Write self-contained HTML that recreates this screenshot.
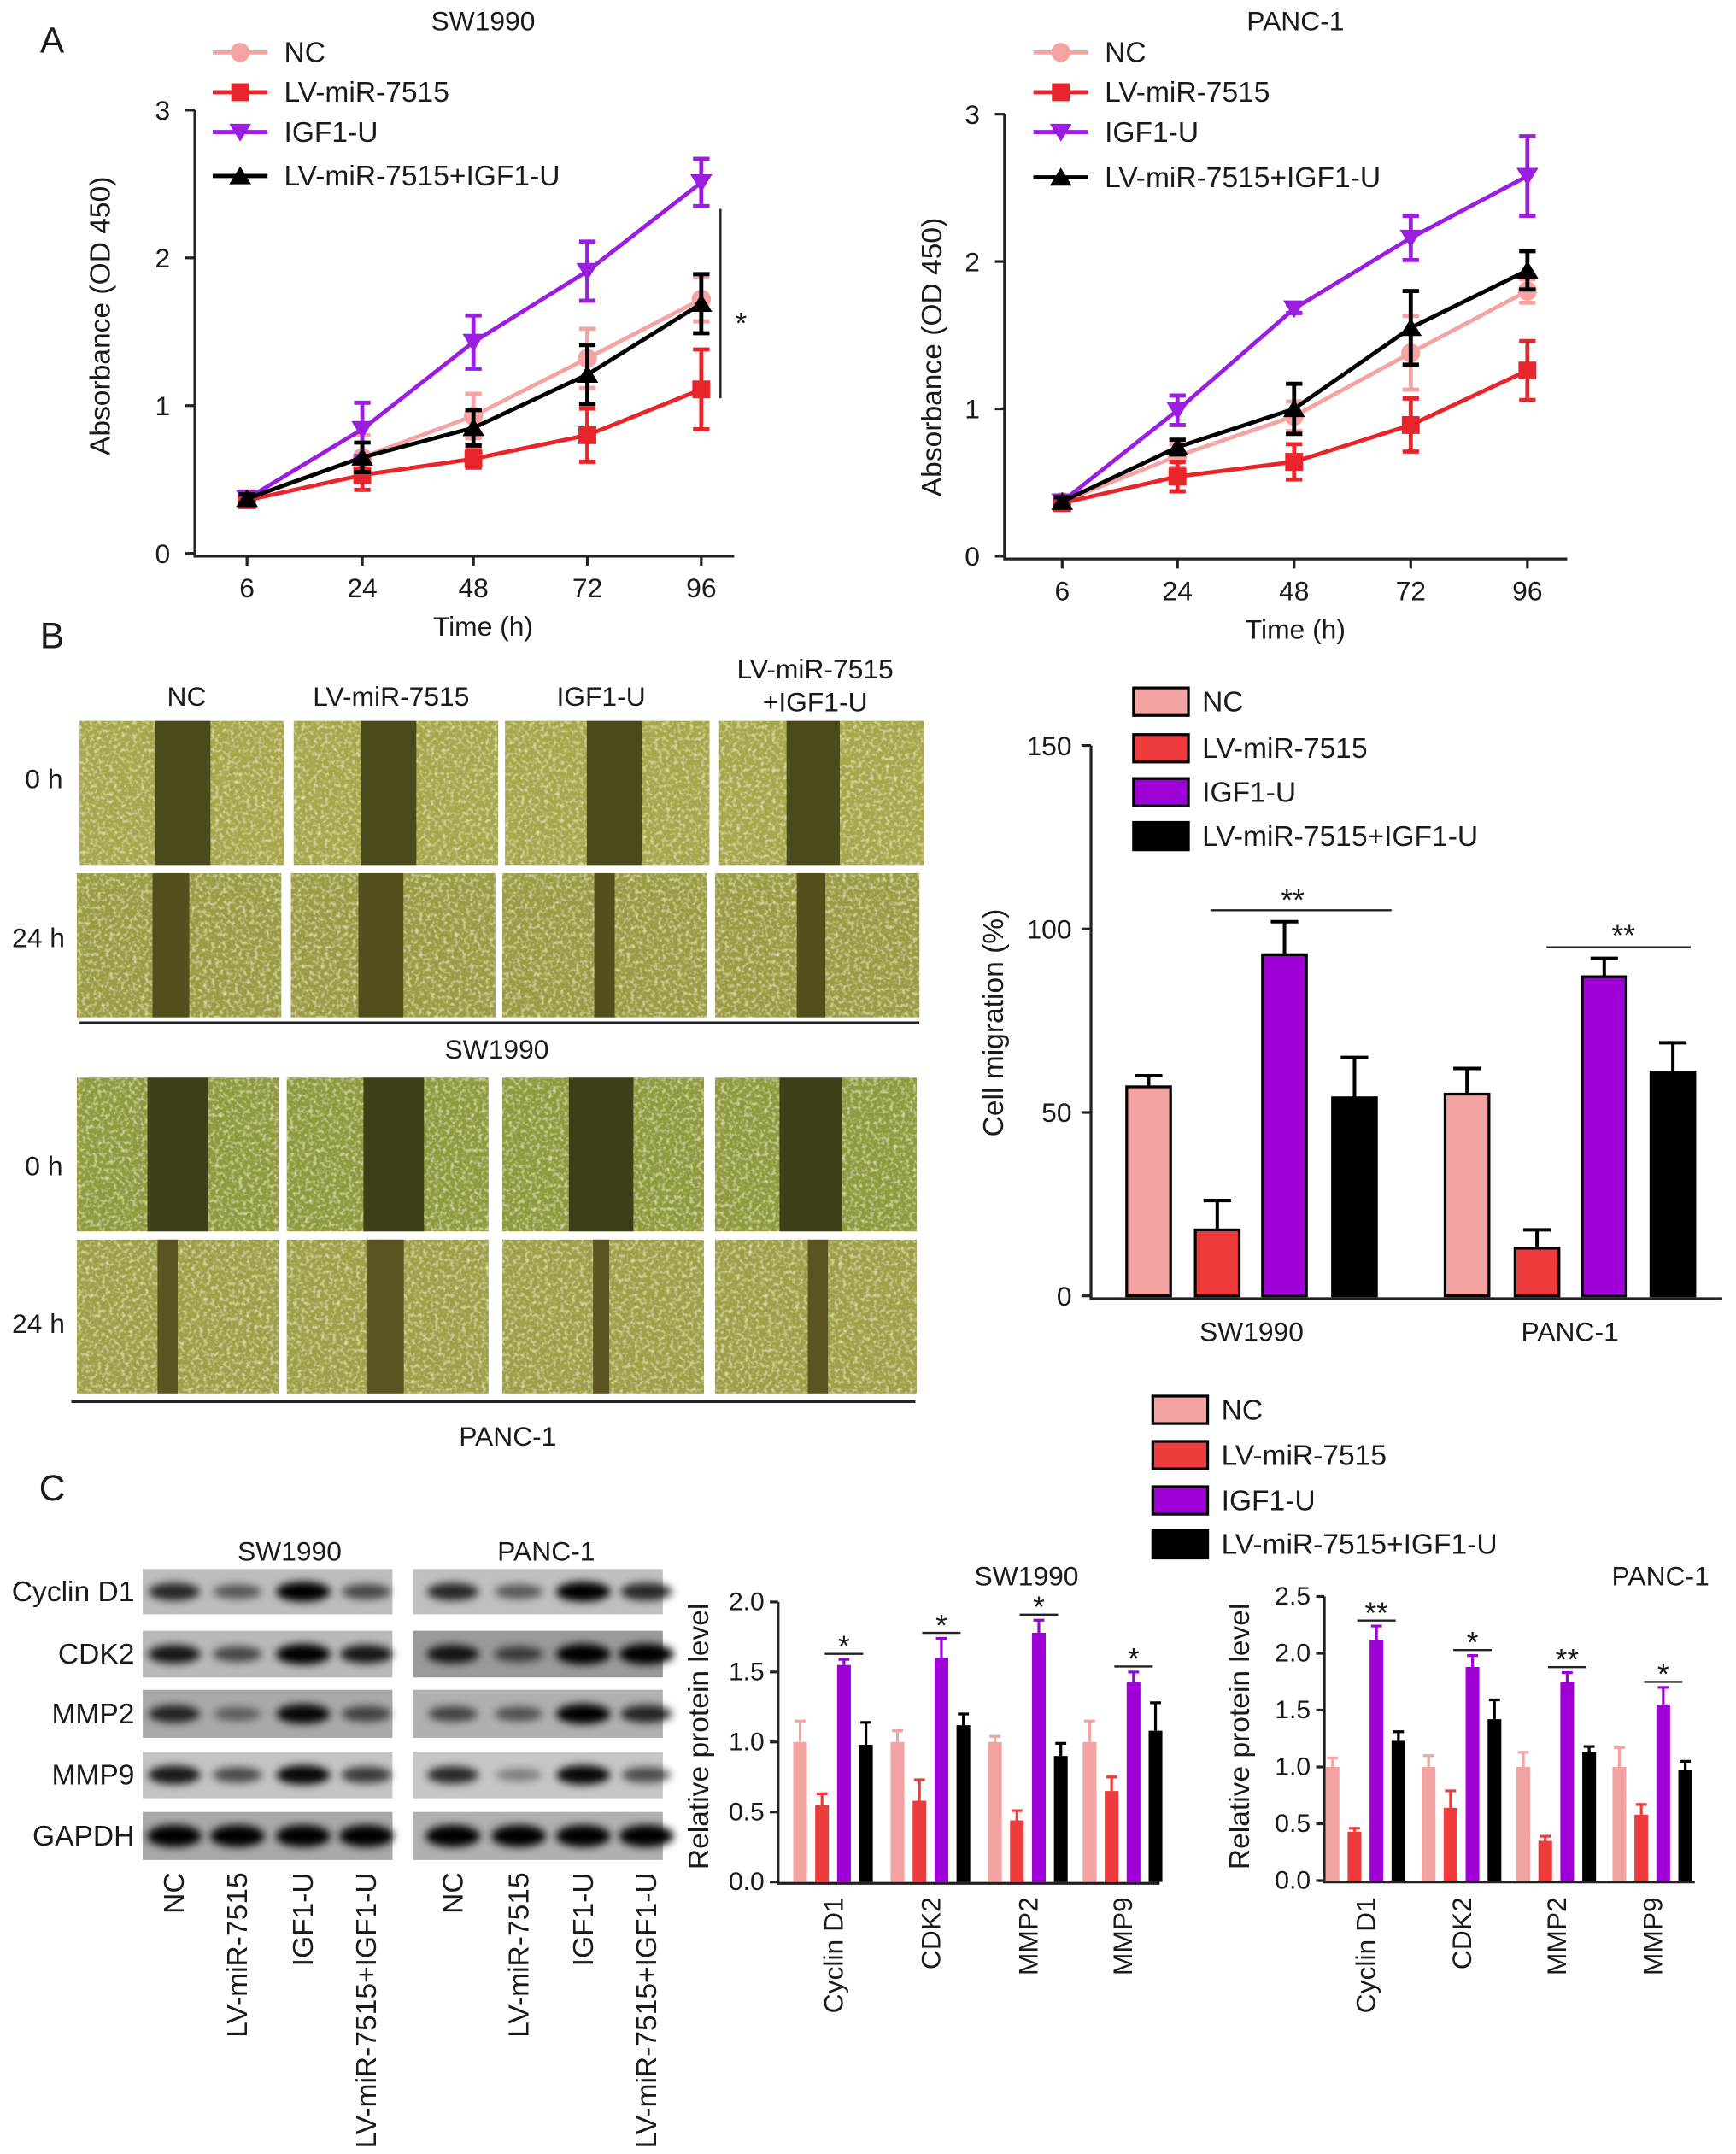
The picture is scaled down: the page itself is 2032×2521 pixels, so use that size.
<!DOCTYPE html>
<html><head><meta charset="utf-8"><style>
html,body{margin:0;padding:0;background:#fff;}
svg{display:block;font-family:"Liberation Sans",Arial,sans-serif;}
</style></head><body>
<svg id="fig" width="2032" height="2521" viewBox="0 0 1265 1569" xmlns="http://www.w3.org/2000/svg">
<defs>
<filter id="noise" x="0" y="0" width="100%" height="100%">
<feTurbulence type="fractalNoise" baseFrequency="0.35" numOctaves="2" seed="3" result="t"/>
<feColorMatrix type="matrix" values="0 0 0 0 0.95  0 0 0 0 0.95  0 0 0 0 0.55  0 0 0 1.6 -0.75" in="t" result="c"/>
<feComposite in="c" in2="SourceGraphic" operator="in" result="n"/>
<feMerge><feMergeNode in="SourceGraphic"/><feMergeNode in="n"/></feMerge>
</filter>
<filter id="blur" x="-20%" y="-50%" width="140%" height="200%"><feGaussianBlur stdDeviation="3"/></filter>
</defs>
</svg>
<script>
// ---- Data ----
const groups = ["NC","LV-miR-7515","IGF1-U","LV-miR-7515+IGF1-U"];
const timeLabels = ["6","24","48","72","96"];
const sw_NC = [0.37,0.65,0.93,1.32,1.72];
const sw_NC_err = [0.05,0.15,0.15,0.2,0.15];
const sw_LV = [0.36,0.53,0.64,0.80,1.11];
const sw_LV_err = [0.04,0.1,0.06,0.18,0.27];
const sw_IGF = [0.37,0.84,1.43,1.91,2.51];
const sw_IGF_err = [0.03,0.18,0.18,0.2,0.16];
const sw_CMB = [0.37,0.65,0.85,1.21,1.69];
const sw_CMB_err = [0.03,0.1,0.12,0.2,0.2];
const pa_NC = [0.37,0.68,0.95,1.38,1.80];
const pa_NC_err = [0.03,0.08,0.1,0.25,0.08];
const pa_LV = [0.36,0.54,0.64,0.89,1.26];
const pa_LV_err = [0.03,0.1,0.12,0.18,0.2];
const pa_IGF = [0.37,0.99,1.68,2.16,2.58];
const pa_IGF_err = [0.03,0.1,0.03,0.15,0.27];
const pa_CMB = [0.37,0.74,1.0,1.55,1.94];
const pa_CMB_err = [0.03,0.05,0.17,0.25,0.13];
const absTicks = [0,1,2,3];

const migCells = ["SW1990","PANC-1"];
const mig_NC = [57,55];
const mig_NC_err = [3,7];
const mig_LV = [18,13];
const mig_LV_err = [8,5];
const mig_IGF = [93,87];
const mig_IGF_err = [9,5];
const mig_CMB = [54,61];
const mig_CMB_err = [11,8];
const migTicks = [0,50,100,150];

const proteins = ["Cyclin D1","CDK2","MMP2","MMP9"];
const swp_NC = [1.0,1.0,1.0,1.0];
const swp_NC_err = [0.15,0.08,0.04,0.15];
const swp_LV = [0.55,0.58,0.44,0.65];
const swp_LV_err = [0.08,0.15,0.07,0.1];
const swp_IGF = [1.55,1.6,1.78,1.43];
const swp_IGF_err = [0.04,0.14,0.09,0.07];
const swp_CMB = [0.98,1.12,0.9,1.08];
const swp_CMB_err = [0.16,0.08,0.09,0.2];
const swpStars = ["*","*","*","*"];
const pap_NC = [1.0,1.0,1.0,1.0];
const pap_NC_err = [0.08,0.1,0.13,0.17];
const pap_LV = [0.43,0.64,0.35,0.58];
const pap_LV_err = [0.03,0.15,0.04,0.09];
const pap_IGF = [2.12,1.88,1.75,1.55];
const pap_IGF_err = [0.12,0.1,0.08,0.15];
const pap_CMB = [1.23,1.42,1.13,0.97];
const pap_CMB_err = [0.08,0.17,0.05,0.08];
const papStars = ["**","*","**","*"];
const swpTicks = ["0.0","0.5","1.0","1.5","2.0"];
const papTicks = ["0.0","0.5","1.0","1.5","2.0","2.5"];

const blotRows = ["Cyclin D1","CDK2","MMP2","MMP9","GAPDH"];
const blotSW = [[0.7,0.4,0.95,0.5],[0.8,0.5,1,0.8],[0.7,0.3,0.9,0.5],[0.8,0.5,0.9,0.6],[1,1,1,1]];
const blotPA = [[0.7,0.4,0.95,0.7],[0.8,0.5,1,1],[0.5,0.4,0.95,0.7],[0.7,0.2,0.9,0.5],[1,1,1,1]];

const COL = ["#f4a3a3","#ee3b3b","#a000d8","#000000"];
const LCOL = ["#f5a3a3","#e8252b","#9a1de0","#000000"];

// ---- helpers ----
const NS="http://www.w3.org/2000/svg";
const svg=document.getElementById('fig');
const FS=1.1;
function mk(tag,attrs,parent){const e=document.createElementNS(NS,tag);for(const k in attrs)e.setAttribute(k,attrs[k]);(parent||svg).appendChild(e);return e;}
function txt(s,x,y,size,anchor,parent,extra){const t=mk('text',Object.assign({x:x,y:y,'font-size':size*FS,'text-anchor':anchor||'middle',fill:'#1a1a1a'},extra||{}),parent);t.textContent=s;return t;}
function lin(d0,d1,r0,r1){return v=>r0+(v-d0)/(d1-d0)*(r1-r0);}

let t;
t=txt("A",38,38,24,'middle');
t=txt("B",38,472,24,'middle');
t=txt("C",38,1093,24,'middle');

// ---- Line charts ----
function marker(g,shape,x,y,c){
  let m;
  if(shape==0)m=mk('circle',{cx:x,cy:y,r:7,fill:c},g);
  else if(shape==1)m=mk('rect',{x:x-6.5,y:y-6.5,width:13,height:13,fill:c},g);
  else if(shape==2)m=mk('polygon',{points:`${x-8},${y-6} ${x+8},${y-6} ${x},${y+7}`,fill:c},g);
  else m=mk('polygon',{points:`${x-8},${y+6} ${x+8},${y+6} ${x},${y-7}`,fill:c},g);
  return m;
}
function lineChart(cfg){
  const g=mk('g',{});
  
  
  const y=lin(0,3,cfg.y0,cfg.y3);
  const ax=mk('path',{d:`M${cfg.ax},${cfg.y3} V${cfg.y0+2} H${cfg.axEnd}`,stroke:'#222','stroke-width':2,fill:'none'},g);
  
  absTicks.forEach(v=>{
    mk('line',{x1:cfg.ax-7,x2:cfg.ax,y1:y(v),y2:y(v),stroke:'#222','stroke-width':2},g);
    const tl=txt(String(v),cfg.ax-18,y(v)+7,18,'end',g);
    
  });
  timeLabels.forEach((s,i)=>{
    mk('line',{x1:cfg.xs[i],x2:cfg.xs[i],y1:cfg.y0+2,y2:cfg.y0+9,stroke:'#222','stroke-width':2},g);
    const tl=txt(s,cfg.xs[i],cfg.y0+32,18,'middle',g);
    
  });
  let e=txt(cfg.title,cfg.cx,22,18,'middle',g);
  e=txt("Time (h)",cfg.cx,cfg.y0+60,18,'middle',g);
  e=txt("Absorbance (OD 450)",0,0,19,'middle',g,{transform:`translate(${cfg.ylx},${cfg.yly}) rotate(-90)`});
  
  cfg.series.forEach((s,k)=>{
    const sg=mk('g',{},g);
    
    
    const pts=s.v.map((v,i)=>cfg.xs[i]+','+y(v)).join(' ');
    mk('polyline',{points:pts,fill:'none',stroke:LCOL[k],'stroke-width':3},sg);
    s.v.forEach((v,i)=>{
      const x=cfg.xs[i],hi=y(v+s.e[i]),lo=y(v-s.e[i]);
      mk('path',{d:`M${x},${lo} V${hi} M${x-6},${hi} H${x+6} M${x-6},${lo} H${x+6}`,stroke:LCOL[k],'stroke-width':3,fill:'none'},sg);
      const m=marker(sg,k,x,y(v),LCOL[k]);
      
    });
  });
  const lg=mk('g',{},g);
  
  groups.forEach((s,k)=>{
    const yy=cfg.legY[k];
    const le=mk('g',{},lg);
    
    mk('line',{x1:cfg.legX,x2:cfg.legX+40,y1:yy,y2:yy,stroke:LCOL[k],'stroke-width':3},le);
    marker(le,k,cfg.legX+20,yy,LCOL[k]);
    txt(s,cfg.legX+52,yy+7,19,'start',le);
  });
  return {g,y};
}
const A1=lineChart({name:'chart-a-sw1990',title:'SW1990',ax:142,axEnd:535,y0:403,y3:80,xs:[180,264,345,428,511],cx:352,ylx:80,yly:230,legX:155,legY:[38,67,96,128],
  series:[{v:sw_NC,e:sw_NC_err},{v:sw_LV,e:sw_LV_err},{v:sw_IGF,e:sw_IGF_err},{v:sw_CMB,e:sw_CMB_err}]});
let sl=mk('line',{x1:525,x2:525,y1:152,y2:290,stroke:'#222','stroke-width':1.5},A1.g);

t=txt("*",540,243,20,'middle',A1.g);
lineChart({name:'chart-a-panc1',title:'PANC-1',ax:732,axEnd:1142,y0:405,y3:83,xs:[774,858,943,1028,1113],cx:944,ylx:686,yly:260,legX:753,legY:[38,67,96,129],
  series:[{v:pa_NC,e:pa_NC_err},{v:pa_LV,e:pa_LV_err},{v:pa_IGF,e:pa_IGF_err},{v:pa_CMB,e:pa_CMB_err}]});

// ---- Wound healing images ----
const micro=mk('g',{});

[["NC",136,514],["LV-miR-7515",285,514],["IGF1-U",438,514],["LV-miR-7515",594,494],["+IGF1-U",594,518]].forEach(a=>{
  const e=txt(a[0],a[1],a[2],18,'middle',micro);
});
[["0 h",32,574],["24 h",28,690],["0 h",32,856],["24 h",28,971]].forEach(a=>{
  const e=txt(a[0],a[1],a[2],18,'middle',micro);
});
const imgRows=[
 {y:525,h:105,xs:[58,214,368,524],w:149,gap:[[0.37,0.27],[0.33,0.27],[0.4,0.27],[0.33,0.26]],gc:'#4a4a1c',bc:'#a6a64c'},
 {y:636,h:105,xs:[56,212,366,521],w:149,gap:[[0.37,0.18],[0.33,0.22],[0.45,0.1],[0.4,0.14]],gc:'#54501e',bc:'#9a9c44'},
 {y:785,h:112,xs:[56,209,366,521],w:147,gap:[[0.35,0.3],[0.38,0.3],[0.33,0.32],[0.32,0.31]],gc:'#3e3e18',bc:'#8e9a3c'},
 {y:903,h:112,xs:[56,209,366,521],w:147,gap:[[0.4,0.1],[0.4,0.18],[0.45,0.08],[0.46,0.1]],gc:'#5a5420',bc:'#9ea04a'}
];
imgRows.forEach(r=>{
  r.xs.forEach((x,i)=>{
    const ig=mk('g',{},micro);
    
    mk('rect',{x:x,y:r.y,width:r.w,height:r.h,fill:r.bc,filter:'url(#noise)'},ig);
    mk('rect',{x:x+r.w*r.gap[i][0],y:r.y,width:r.w*r.gap[i][1],height:r.h,fill:r.gc},ig);
  });
});
mk('line',{x1:58,x2:670,y1:745,y2:745,stroke:'#222','stroke-width':2},micro);
t=txt("SW1990",362,771,18,'middle',micro);
mk('line',{x1:52,x2:667,y1:1021,y2:1021,stroke:'#222','stroke-width':2},micro);
t=txt("PANC-1",370,1053,18,'middle',micro);

// ---- Migration bar chart ----
(function(){
  const g=mk('g',{});
  
  const y=lin(0,150,944,543);
  const ax=mk('path',{d:`M795,543 V946 H1255`,stroke:'#222','stroke-width':2,fill:'none'},g);
  
  migTicks.forEach(v=>{
    mk('line',{x1:788,x2:795,y1:y(v),y2:y(v),stroke:'#222','stroke-width':2},g);
    const e=txt(String(v),781,y(v)+7,18,'end',g);
  });
  let e=txt("Cell migration (%)",0,0,19,'middle',g,{transform:'translate(731,745) rotate(-90)'});
  
  const centers=[[837,887,936,987],[1069,1120,1169,1219]];
  const vals=[mig_NC,mig_LV,mig_IGF,mig_CMB],errs=[mig_NC_err,mig_LV_err,mig_IGF_err,mig_CMB_err];
  migCells.forEach((c,gi)=>{
    const cx=(centers[gi][0]+centers[gi][3])/2;
    const e=txt(c,cx,977,18,'middle',g);
    for(let k=0;k<4;k++){
      const x=centers[gi][k],v=vals[k][gi],er=errs[k][gi];
      mk('path',{d:`M${x},${y(v)} V${y(v+er)} M${x-10},${y(v+er)} H${x+10}`,stroke:'#000','stroke-width':2.5,fill:'none'},g);
      const b=mk('rect',{x:x-16,y:y(v),width:32,height:y(0)-y(v),fill:COL[k],stroke:'#000','stroke-width':2},g);
      
      
    }
  });
  mk('line',{x1:882,x2:1014,y1:663,y2:663,stroke:'#222','stroke-width':1.5},g);
  e=txt("**",942,663,20,'middle',g);
  mk('line',{x1:1127,x2:1232,y1:690,y2:690,stroke:'#222','stroke-width':1.5},g);
  e=txt("**",1183,689,20,'middle',g);
  const lg=mk('g',{},g);
  
  [511,545,577,609].forEach((yy,k)=>{
    const le=mk('g',{},lg);
    
    mk('rect',{x:826,y:yy-10,width:40,height:20,fill:COL[k],stroke:'#000','stroke-width':2},le);
    txt(groups[k],876,yy+7,19,'start',le);
  });
})();

// ---- Western blot ----
(function(){
  const g=mk('g',{});
  
  let e=txt("SW1990",211,1137,18,'middle',g);
  e=txt("PANC-1",398,1137,18,'middle',g);
  const rowY=[[1143,33],[1188,34],[1231,35],[1276,34],[1320,35]];
  const bgSW=['#bdbdbd','#b9b9b9','#a9a9a9','#c4c4c4','#a8a8a8'];
  const bgPA=['#c0c0c0','#9a9a9a','#b0b0b0','#c6c6c6','#b0b0b0'];
  const laneSW=[127,173,221,267],lanePA=[330,378,425,471];
  blotRows.forEach((name,r)=>{
    const e=txt(name,98,rowY[r][0]+rowY[r][1]/2+7,19,'end',g);
    
    [[104,bgSW,laneSW,blotSW],[301,bgPA,lanePA,blotPA]].forEach(p=>{
      const bg=mk('g',{},g);
      
      mk('rect',{x:p[0],y:rowY[r][0],width:182,height:rowY[r][1],fill:p[1][r]},bg);
      p[2].forEach((lx,i)=>{
        const d=p[3][r][i];
        const h=r==4?14:6+d*7;
        mk('ellipse',{cx:lx,cy:rowY[r][0]+rowY[r][1]/2,rx:r==4?20:16+d*4,ry:h/2+1,fill:'#000','fill-opacity':Math.min(1,0.2+d*0.85),filter:'url(#blur)'},bg);
      });
    });
  });
  ["NC","LV-miR-7515","IGF1-U","LV-miR-7515+IGF1-U"].forEach((s,i)=>{
    [[127,173,221,267],[330,378,425,471]].forEach(L=>{
      const e=txt(s,0,0,19,'end',g,{transform:`translate(${L[i]+7},1364) rotate(-90)`});
      
    });
  });
})();

// ---- Protein bar charts ----
function protChart(cfg){
  const g=mk('g',{});
  
  const y=lin(0,cfg.max,cfg.y0,cfg.yTop);
  const ax=mk('path',{d:`M${cfg.ax},${cfg.yTop} V${cfg.y0+1} H${cfg.axEnd}`,stroke:'#222','stroke-width':2,fill:'none'},g);
  
  cfg.ticks.forEach(s=>{
    const v=parseFloat(s);
    mk('line',{x1:cfg.ax-6,x2:cfg.ax,y1:y(v),y2:y(v),stroke:'#222','stroke-width':2},g);
    const e=txt(s,cfg.ax-10,y(v)+6,17,'end',g);
  });
  let e=txt(cfg.title,cfg.tx,1155,18,'middle',g);
  e=txt("Relative protein level",0,0,19,'middle',g,{transform:`translate(${cfg.ylx},1265) rotate(-90)`});
  
  proteins.forEach((p,gi)=>{
    const c=cfg.centers[gi];
    const e=txt(p,0,0,18,'end',g,{transform:`translate(${c+7},1382) rotate(-90)`});
    
    for(let k=0;k<4;k++){
      const x=c+(k-1.5)*16,v=cfg.vals[k][gi],er=cfg.errs[k][gi];
      mk('path',{d:`M${x},${y(v)} V${y(v+er)} M${x-4},${y(v+er)} H${x+4}`,stroke:COL[k],'stroke-width':2,fill:'none'},g);
      const b=mk('rect',{x:x-5,y:y(v),width:10,height:y(0)-y(v),fill:COL[k]},g);
      
      
    }
    const xi=c+0.5*16,top=y(cfg.vals[2][gi]+cfg.errs[2][gi])-4;
    mk('line',{x1:xi-14,x2:xi+14,y1:top,y2:top,stroke:'#222','stroke-width':1.5},g);
    const s=txt(cfg.stars[gi],xi,top+2,20,'middle',g);
  });
}
protChart({name:'chart-c-sw1990',title:'SW1990',tx:748,ax:567,axEnd:845,y0:1371,yTop:1167,max:2.0,ticks:swpTicks,ylx:516,
  centers:[607,678,749,818],vals:[swp_NC,swp_LV,swp_IGF,swp_CMB],errs:[swp_NC_err,swp_LV_err,swp_IGF_err,swp_CMB_err],stars:swpStars});
protChart({name:'chart-c-panc1',title:'PANC-1',tx:1210,ax:965,axEnd:1235,y0:1370,yTop:1163,max:2.5,ticks:papTicks,ylx:910,
  centers:[995,1065,1134,1204],vals:[pap_NC,pap_LV,pap_IGF,pap_CMB],errs:[pap_NC_err,pap_LV_err,pap_IGF_err,pap_CMB_err],stars:papStars});

(function(){
  const lg=mk('g',{});
  
  [1027,1060,1093,1125].forEach((yy,k)=>{
    const le=mk('g',{},lg);
    
    mk('rect',{x:840,y:yy-10,width:40,height:20,fill:COL[k],stroke:'#000','stroke-width':2},le);
    txt(groups[k],890,yy+7,19,'start',le);
  });
})();
</script>
</body></html>
